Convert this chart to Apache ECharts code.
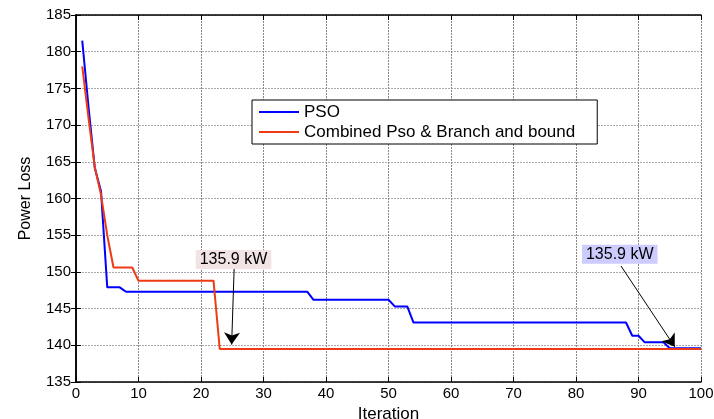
<!DOCTYPE html>
<html>
<head>
<meta charset="utf-8">
<script src="https://cdn.jsdelivr.net/npm/echarts@6/dist/echarts.min.js"></script>
<style>
  html, body { margin: 0; padding: 0; background: #fff; }
  #chart { width: 714px; height: 419px; }
</style>
</head>
<body>
<div id="chart"></div>
<script>
// breakpoints of the two convergence curves (iteration, power loss)
var psoIter = [1, 2, 3, 4, 5, 7, 8, 37, 38, 50, 51, 53, 54, 88, 89, 90, 91, 94, 95, 100];
var psoLoss = [181.5, 172.5, 164.2, 161, 147.9, 147.9, 147.3, 147.3, 146.2, 146.2, 145.3, 145.3, 143.1, 143.1, 141.3, 141.3, 140.4, 140.4, 139.6, 139.6];
var combIter = [1, 2, 3, 4, 5, 6, 9, 10, 22, 23, 100];
var combLoss = [178, 171, 164.3, 160.5, 155, 150.6, 150.6, 148.8, 148.8, 139.5, 139.5];

var seriesNames = ['PSO', 'Combined Pso & Branch and bound'];
// annotations: label text, label anchor, arrow start, arrow end
var noteText = ['135.9 kW', '135.9 kW'];
var noteAt = [[25.2, 151.7], [87.0, 152.4]];
var arrowFrom = [[25.3, 150.4], [87.2, 150.8]];
var arrowTo = [[24.9, 140.1], [95.8, 139.8]];
var noteBg = ['#F2E4E4', '#CCCCFF'];

function pairs(xs, ys) {
  return xs.map(function (x, i) { return [x, ys[i]]; });
}

var font = 'Liberation Sans, Arial, sans-serif';
var myChart = echarts.init(document.getElementById('chart'));

var option = {
  animation: false,
  backgroundColor: '#fff',
  grid: { left: 76, right: 13, top: 15, bottom: 37, outerBoundsMode: 'none', containLabel: false },
  legend: {
    data: seriesNames,
    orient: 'vertical',
    left: 252,
    top: 100,
    padding: [3, 22, 3, 7],
    itemGap: 2,
    itemWidth: 40,
    itemHeight: 2,
    icon: 'rect',
    backgroundColor: '#fff',
    borderColor: '#000',
    borderWidth: 1,
    borderRadius: 0,
    textStyle: { fontFamily: font, fontSize: 17, color: '#000', lineHeight: 18 }
  },
  xAxis: [
    {
      type: 'value', min: 0, max: 100, interval: 10,
      name: 'Iteration', nameLocation: 'middle', nameGap: 18,
      nameTextStyle: { fontFamily: font, fontSize: 17, color: '#000' },
      axisLine: { lineStyle: { color: '#000', width: 1.5 } },
      axisTick: { inside: true, length: 5, lineStyle: { color: '#000' } },
      axisLabel: { fontFamily: font, fontSize: 15, color: '#000', margin: 4 },
      splitLine: { show: true, lineStyle: { color: '#888', type: [2, 1], width: 1 } }
    },
    {
      type: 'value', min: 0, max: 100, interval: 10, position: 'top',
      axisLine: { lineStyle: { color: '#000', width: 1.5 } },
      axisTick: { inside: true, length: 5, lineStyle: { color: '#000' } },
      axisLabel: { show: false },
      splitLine: { show: false }
    }
  ],
  yAxis: [
    {
      type: 'value', min: 135, max: 185, interval: 5,
      name: 'Power Loss', nameLocation: 'middle', nameGap: 42,
      nameTextStyle: { fontFamily: font, fontSize: 16, color: '#000' },
      axisLine: { show: true, lineStyle: { color: '#000', width: 1.5 } },
      axisTick: { show: true, inside: true, length: 5, lineStyle: { color: '#000' } },
      axisLabel: { fontFamily: font, fontSize: 15, color: '#000', margin: 5 },
      splitLine: { show: true, lineStyle: { color: '#aaa', type: [2, 1], width: 1 } }
    },
    {
      type: 'value', min: 135, max: 185, interval: 5, position: 'right',
      axisLine: { show: true, lineStyle: { color: '#000', width: 1.5 } },
      axisTick: { show: true, inside: true, length: 5, lineStyle: { color: '#000' } },
      axisLabel: { show: false },
      splitLine: { show: false }
    }
  ],
  series: [
    {
      name: seriesNames[0],
      type: 'line',
      data: pairs(psoIter, psoLoss),
      symbol: 'none',
      lineStyle: { color: '#0000FF', width: 2 },
      itemStyle: { color: '#0000FF' }
    },
    {
      name: seriesNames[1],
      type: 'line',
      data: pairs(combIter, combLoss),
      symbol: 'none',
      lineStyle: { color: '#EE3B14', width: 2 },
      itemStyle: { color: '#EE3B14' }
    },
    {
      name: 'notes',
      type: 'line',
      data: [],
      markLine: {
        silent: true,
        symbol: ['none', 'arrow'],
        symbolSize: 12,
        label: { show: false },
        lineStyle: { color: '#000', width: 1, type: 'solid' },
        itemStyle: { color: '#000' },
        data: arrowFrom.map(function (p, i) {
          return [{ coord: p }, { coord: arrowTo[i] }];
        })
      },
      markPoint: {
        silent: true,
        symbol: 'rect',
        symbolSize: 1,
        itemStyle: { color: 'rgba(0,0,0,0)' },
        data: noteText.map(function (t, i) {
          return {
            coord: noteAt[i],
            label: {
              show: true,
              position: 'inside',
              formatter: t,
              fontFamily: font,
              fontSize: 16,
              color: '#000',
              backgroundColor: noteBg[i],
              padding: [2, 4, 1, 4]
            }
          };
        })
      }
    }
  ]
};

myChart.setOption(option);
</script>
</body>
</html>
